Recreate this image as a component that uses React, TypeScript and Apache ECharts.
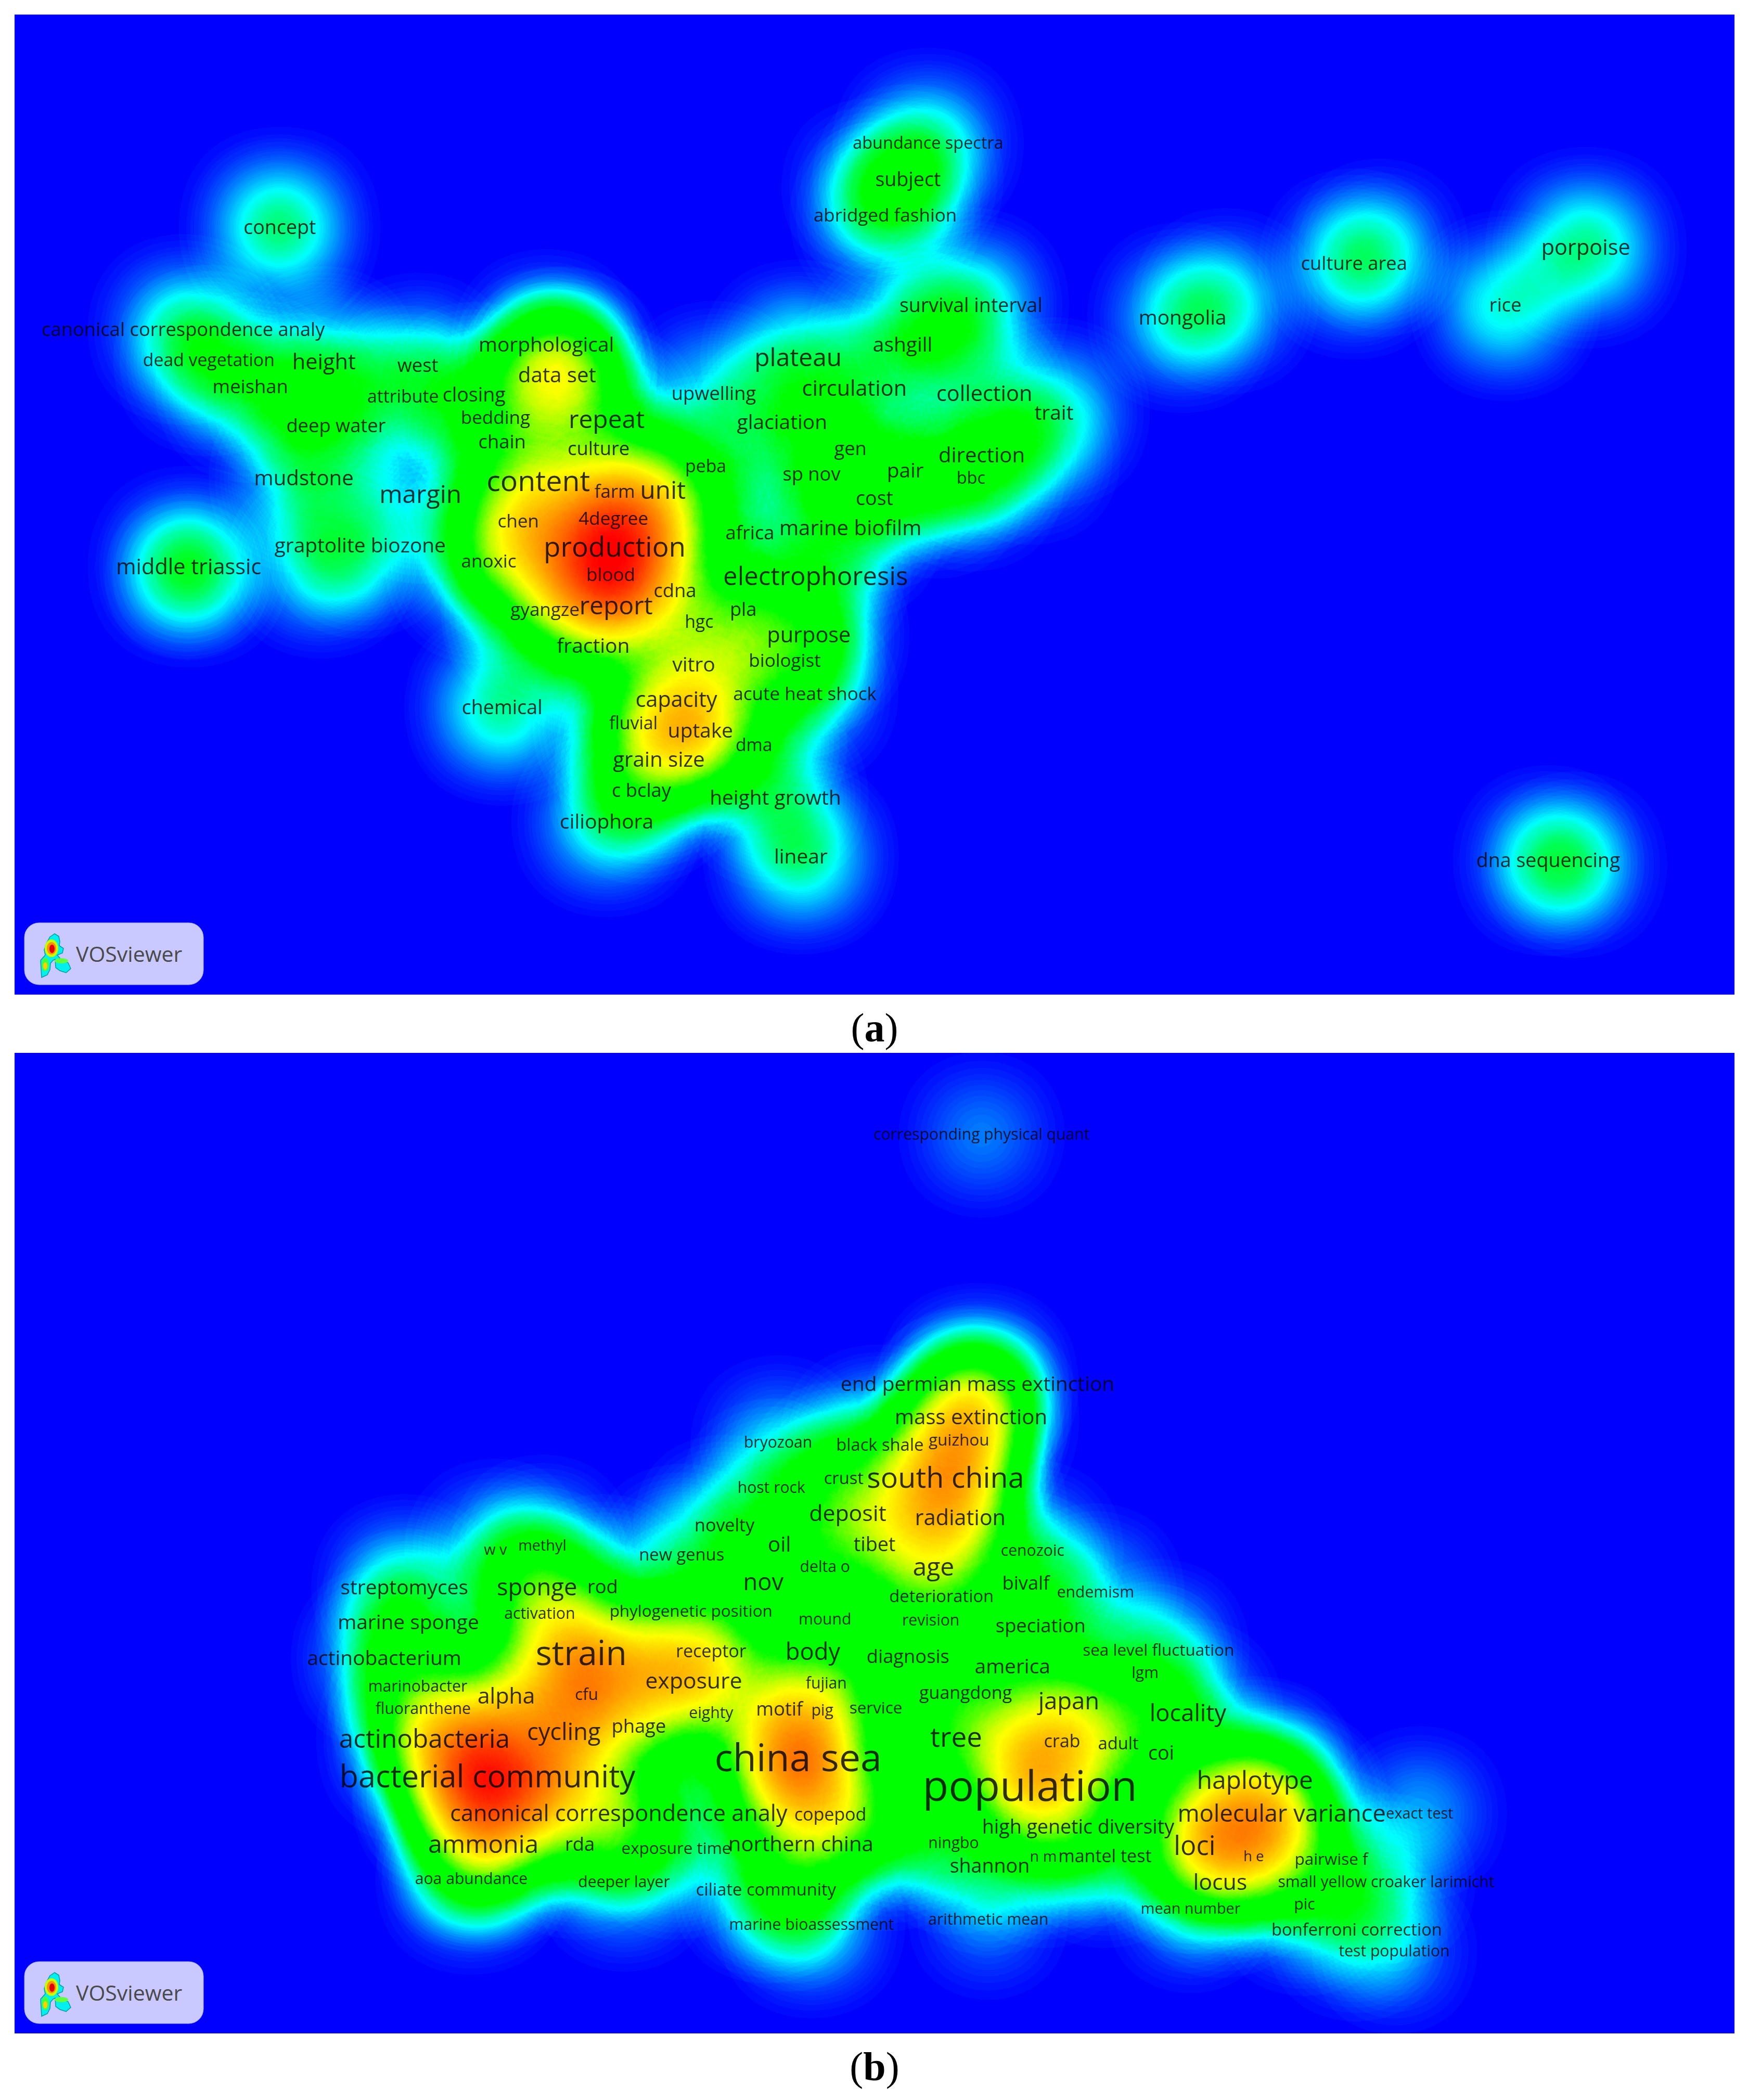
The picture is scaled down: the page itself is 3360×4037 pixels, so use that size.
import React, { useEffect, useRef } from "react";
import * as echarts from "echarts";

// [term, x, y, label weight, density contribution]; x/y in map units
type Term = [string, number, number, number, number];

const termsA: Term[] = [
  ["abundance spectra",693,107,11.5,.3],["subject",678,134,14,.3],["abridged fashion",661,161,12.5,.3],
  ["concept",209,170,14,.42],["culture area",1011,197,13.5,.3],["porpoise",1184,185,15.5,.4],["rice",1124,228,13.5,.32],
  ["survival interval",725,228,14,.36],["mongolia",883,237,14.5,.3],["canonical correspondence analy",137,246,13,.3],
  ["dead vegetation",156,269,12,.3],["height",242,270,15.5,.32],["ashgill",674,257,14.5,.35],["morphological",408,257,14.5,.3],
  ["plateau",596,267,18,.35],["west",312,273,13.5,.26],["meishan",187,289,13.5,.3],["data set",416,280,15,.7],
  ["attribute",301,296,12,.22],["closing",354,295,14,.26],["circulation",638,290,15.5,.2],["upwelling",533,294,13.5,.25],
  ["collection",735,294,15.5,.2],["trait",787,308,14.5,.3],["bedding",370,312,12.5,.24],["repeat",453,313,18,.3],
  ["glaciation",584,315,14.5,.28],["deep water",251,318,13.5,.3],["chain",375,330,13.5,.25],["culture",447,335,13.5,.25],
  ["gen",635,335,13,.35],["direction",733,340,15,.3],["peba",527,348,12,.24],["sp nov",606,354,13.5,.25],["pair",676,351,14.5,.26],
  ["bbc",725,357,11.5,.26],["mudstone",227,357,15,.32],["content",402,359,21,.7],["unit",495,366,18,.65],["margin",314,369,18,.2],
  ["farm",459,367,12.5,.5],["cost",653,372,14,.25],["chen",387,389,12.5,.75],["4degree",458,387,12.5,.85],["africa",560,398,13.5,.25],
  ["marine biofilm",635,394,15,.25],["graptolite biozone",269,407,14.5,.26],["production",459,408,20,1],["middle triassic",141,423,15.5,.42],
  ["anoxic",365,419,12.5,.5],["blood",456,429,12.5,1],["electrophoresis",609,430,18.5,.3],["cdna",504,441,13.5,.4],["report",460,452,18,.9],
  ["gyangze",407,455,12.5,.6],["pla",555,455,13,.38],["hgc",522,464,12,.25],["purpose",604,474,15.5,.45],["fraction",443,482,14.5,.28],
  ["vitro",518,496,14.5,.3],["biologist",586,493,12.5,.4],["capacity",505,522,15.5,.45],["acute heat shock",601,518,12.5,.25],
  ["chemical",375,528,14,.38],["fluvial",473,540,12,.45],["uptake",523,545,14.5,.8],["dma",563,556,12,.25],["grain size",492,567,15,.5],
  ["c bclay",479,590,13.5,.28],["height growth",579,595,14.5,.26],["ciliophora",453,613,14.5,.3],["linear",598,639,14.5,.38],["dna sequencing",1156,642,14,.3],
];

const termsB: Term[] = [
  ["corresponding physical quant",733,847,11.5,.14],["end permian mass extinction",730,1033,14.5,.45],["mass extinction",725,1058,15,.7],
  ["bryozoan",581,1077,11.5,.18],["black shale",657,1079,12.5,.4],["guizhou",716,1075,12,.55],["south china",706,1103,21,.8],["crust",630,1104,12.5,.35],
  ["host rock",576,1111,11.5,.2],["deposit",633,1130,16,.5],["radiation",717,1133,15.5,.7],["novelty",541,1139,13,.24],["oil",582,1153,15,.26],
  ["tibet",653,1153,14,.5],["methyl",405,1154,11,.22],["w v",370,1157,11,.22],["new genus",509,1161,12.5,.22],["cenozoic",771,1158,11.5,.22],
  ["delta o",616,1170,11.5,.24],["age",697,1170,18,.6],["nov",570,1181,17,.3],["bivalf",766,1182,13.5,.24],["streptomyces",302,1185,14.5,.28],
  ["sponge",401,1185,17,.4],["rod",450,1185,13.5,.25],["endemism",818,1189,11.5,.2],["deterioration",703,1192,12.5,.26],["activation",403,1205,11.5,.6],
  ["phylogenetic position",516,1203,12,.24],["mound",616,1209,11.5,.24],["revision",695,1210,11.5,.24],["marine sponge",305,1211,14.5,.28],
  ["speciation",777,1214,13.5,.24],["sea level fluctuation",865,1232,12,.24],["actinobacterium",287,1238,14.5,.28],["strain",434,1234,25,1],
  ["receptor",531,1233,13,.7],["body",607,1233,17,.3],["diagnosis",678,1237,13.5,.26],["america",756,1244,14.5,.3],["lgm",855,1249,11.5,.22],
  ["exposure",518,1255,16,.85],["fujian",617,1257,11.5,.24],["marinobacter",312,1259,11.5,.28],["guangdong",721,1264,13,.4],["alpha",378,1266,16,.85],
  ["cfu",438,1265,12,.9],["japan",798,1270,17,.6],["fluoranthene",316,1276,11.5,.3],["eighty",531,1279,11.5,.24],["motif",582,1276,13.5,.55],
  ["pig",614,1277,11.5,.4],["service",654,1275,12,.26],["locality",887,1279,17,.3],["phage",477,1289,13.5,.6],["cycling",421,1293,17,.85],
  ["tree",714,1297,20,.65],["crab",793,1300,13,.7],["adult",835,1302,12.5,.55],["actinobacteria",317,1298,18.6,.7],["coi",867,1309,14,.32],
  ["china sea",596,1312,28,1],["bacterial community",364,1326,22.5,1],["haplotype",937,1329,18,.65],["population",769,1333,31,.9],
  ["canonical correspondence analy",462,1354,16.2,.85],["copepod",620,1355,13,.75],["molecular variance",957,1354,17,.8],["exact test",1060,1354,11,.18],
  ["high genetic diversity",805,1364,14,.4],["ammonia",361,1377,18,.95],["rda",433,1377,13.5,.3],["northern china",598,1377,15,.45],["ningbo",712,1376,11.5,.22],
  ["loci",892,1378,19,.75],["exposure time",505,1380,12,.24],["h e",936,1386,10.5,.45],["n m",779,1386,11,.22],["mantel test",825,1386,13,.24],
  ["pairwise f",994,1388,12,.24],["shannon",739,1393,14,.2],["locus",911,1405,16,.3],["aoa abundance",352,1403,11.5,.3],["deeper layer",466,1405,11.5,.2],
  ["small yellow croaker larimicht",1035,1405,11.5,.2],["ciliate community",572,1411,12.5,.28],["pic",974,1422,11.5,.24],["mean number",889,1425,11,.16],
  ["marine bioassessment",606,1437,11.5,.25],["arithmetic mean",738,1433,11.5,.12],["bonferroni correction",1013,1441,12.5,.22],["test population",1041,1457,11.5,.14],
];

// Items of the map that carry no visible label: [x, y, density contribution]
const unlabeledA: [number, number, number][] = [
  [650,140,.2],[140,430,.15],[240,420,.3],[220,300,.2],[770,340,.2],[700,365,.2],[420,270,.3],[700,250,.2],
  [915,225,.25],[1030,185,.2],[1175,645,.25],[545,485,.45],[510,540,.5],[440,420,.6],[415,285,.4],[395,410,.5],[500,400,.5],
];
const unlabeledB: [number, number, number][] = [
  [330,1340,.2],[560,1340,.4],[625,1340,.3],[920,1370,.25],[970,1400,.15],[590,1420,.2],
  [365,1330,.9],[350,1300,.6],[400,1350,.5],[480,1240,.8],[590,1320,.6],[600,1290,.3],[765,1310,.5],[780,1340,.3],
  [905,1360,.6],[690,1130,.5],[725,1050,.4],[710,1100,.3],[410,1330,.8],[340,1340,.5],[935,1370,.5],[680,1355,.3],[665,1375,.2],
];

const PANEL_A = { x0: 11, x1: 1295, y0: 11, y1: 742, left: 28, top: 28, w: 3306, h: 1884 };
const PANEL_B = { x0: 11, x1: 1295, y0: 786, y1: 1518, left: 28, top: 2024, w: 3306, h: 1885 };
const RAMP = ["#0000ff","#0080ff","#00ffff","#00ff70","#00ff00","#00ff00","#00ff00","#00ff00","#60ff00","#c0ff00","#ffff00","#ffd800","#ffb000","#ff8800","#ff6000","#ff3000","#ff0000","#ff0000","#ff0000","#ff0000","#ff0000"];
const FONT_UNIT = 2.575;
const labelSize = (w: number, smallBoost: number) => (w + (w < 13.5 ? smallBoost : 0.6)) * FONT_UNIT;
const TOP = 100;

function registerPanel(name: string, p: typeof PANEL_A) {
  echarts.registerMap(name, {
    type: "FeatureCollection",
    features: [{ type: "Feature", properties: { name }, geometry: { type: "Polygon", coordinates: [[[p.x0,-p.y1],[p.x1,-p.y1],[p.x1,-p.y0],[p.x0,-p.y0],[p.x0,-p.y1]]] } }],
  } as any);
}

function logo(dy: number) {
  const c = (type: string, shape: any, fill: string, z: number) => ({ type, shape, z: TOP + z, style: { fill } });
  return {
    type: "group", x: 47, y: 1774 + dy,
    children: [
      { type: "rect", z: TOP, shape: { x: 0, y: 0, width: 344, height: 119, r: 28 }, style: { fill: "#c9c9ff", stroke: "#a9a9e0", lineWidth: 1 } },
      { type: "polygon", z: TOP + 1, shape: { points: [[49,27],[58,21],[66,26],[68,36],[67,44],[75,49],[73,58],[63,62],[70,70],[84,77],[89,88],[80,96],[68,92],[60,86],[59,70],[55,72],[50,78],[49,90],[44,100],[33,105],[32,90],[31,72],[40,62],[38,52],[42,40]] }, style: { fill: "#00f0f0", stroke: "#0a9a9a", lineWidth: 1.5 } },
      c("ellipse", { cx: 52, cy: 49, rx: 13, ry: 17 }, "#c8ff00", 2),
      c("ellipse", { cx: 52, cy: 49, rx: 9, ry: 12 }, "#ff9000", 3),
      c("ellipse", { cx: 53, cy: 50, rx: 5, ry: 8 }, "#e00000", 4),
      c("ellipse", { cx: 40, cy: 80, rx: 7, ry: 13 }, "#40ff40", 2),
      c("ellipse", { cx: 40, cy: 83, rx: 4, ry: 7 }, "#ffd000", 3),
      c("ellipse", { cx: 71, cy: 73, rx: 13, ry: 5 }, "#60ff40", 2),
      { type: "text", z: TOP + 1, style: { x: 99, y: 59, text: "VOSviewer", font: "41px 'Open Sans'", fill: "#4a4a4a", verticalAlign: "middle" } },
    ],
  };
}

function caption(letter: string, x: number, y: number) {
  return {
    type: "text",
    z: TOP,
    style: {
      x, y, align: "center", verticalAlign: "middle", text: `{n|(}{b|${letter}}{n|)}`,
      rich: {
        n: { font: "78px 'Liberation Serif'", fill: "#000" },
        b: { font: "bold 78px 'Liberation Serif'", fill: "#000" },
      },
    },
  };
}

function geoOf(map: string, p: typeof PANEL_A) {
  return {
    map, left: p.left, top: p.top, width: p.w, height: p.h, silent: true, roam: false,
    aspectScale: (p.w / p.h) / ((p.x1 - p.x0) / (p.y1 - p.y0)),
    boundingCoords: [[p.x0, -p.y0], [p.x1, -p.y1]],
    label: { show: false },
    itemStyle: { areaColor: "#0000ff", borderWidth: 0 },
    emphasis: { disabled: true },
    select: { disabled: true },
  };
}

function heatSeries(geoIndex: number, terms: Term[], extra: [number, number, number][]) {
  return {
    type: "heatmap", coordinateSystem: "geo", geoIndex,
    pointSize: 70, blurSize: 150, minOpacity: 1, maxOpacity: 1, silent: true,
    data: [
      ...terms.map((t) => [t[1], -t[2], t[4]]),
      ...extra.map((e) => [e[0], -e[1], e[2]]),
    ],
  };
}

function labelSeries(geoIndex: number, terms: Term[], smallBoost: number) {
  return {
    type: "scatter", coordinateSystem: "geo", geoIndex, symbolSize: 1, silent: true, z: 10,
    itemStyle: { color: "transparent" },
    label: { show: true, position: "inside", formatter: "{b}", color: "#000", fontFamily: "'Open Sans'", offset: [0, -2] },
    data: terms.map((t) => ({ name: t[0], value: [t[1], -t[2]], label: { fontSize: labelSize(t[3], smallBoost) } })),
  };
}

export default function App() {
  const ref = useRef<HTMLDivElement>(null);
  useEffect(() => {
    document.body.style.margin = "0";
    registerPanel("panelA", PANEL_A);
    registerPanel("panelB", PANEL_B);
    const chart = echarts.init(ref.current!, null, { renderer: "svg" });
    chart.setOption({
      animation: false,
      backgroundColor: "#ffffff",
      geo: [geoOf("panelA", PANEL_A), geoOf("panelB", PANEL_B)],
      visualMap: [0, 2].map((seriesIndex) => ({
        type: "continuous", show: false, min: 0, max: 1, seriesIndex, inRange: { color: RAMP },
      })),
      series: [
        heatSeries(0, termsA, unlabeledA),
        labelSeries(0, termsA, 1.1),
        heatSeries(1, termsB, unlabeledB),
        labelSeries(1, termsB, 0.2),
      ],
      graphic: { z: TOP, elements: [logo(0), logo(1997), caption("a", 1681, 1975), caption("b", 1681, 3972)] },
    });
    return () => chart.dispose();
  }, []);
  return <div ref={ref} style={{ position: "absolute", left: 0, top: 0, width: 3360, height: 4037 }} />;
}
